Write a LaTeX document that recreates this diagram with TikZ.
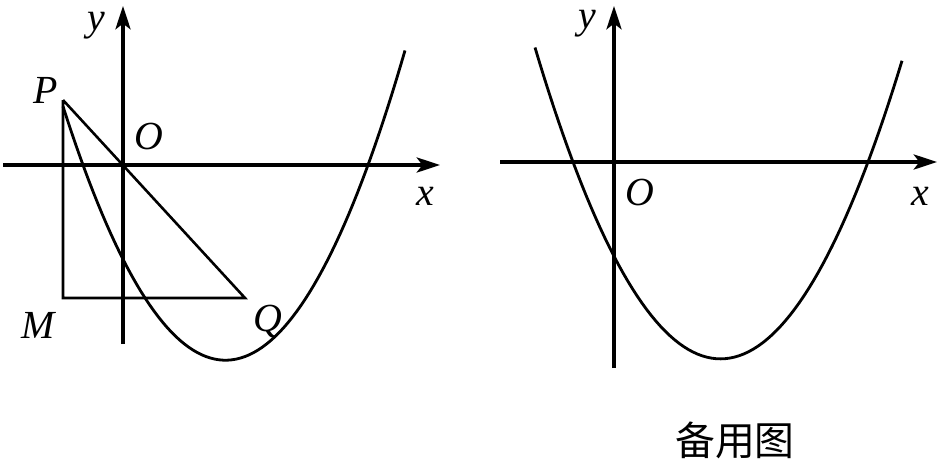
\documentclass[tikz,border=0pt]{standalone}
\usepackage{fontspec}
\setmainfont{Liberation Serif}
\newfontfamily\cjk{Noto Sans CJK SC}
\usetikzlibrary{arrows.meta}

\tikzset{
  axis/.style = { line width = 2.6pt, -{Stealth[length = 20pt, width = 13pt, inset = 5pt]} },
  curve/.style = { line width = 2.4pt },
  seg/.style = { line width = 2.2pt },
  lbl/.style = { font = \fontsize{34}{40}\selectfont\itshape, inner sep = 0pt }
}

\begin{document}
\begin{tikzpicture}[x = 0.03cm, y = -0.03cm]
  \useasboundingbox (0,0) rectangle (939,470);
  % left figure
  \coordinate (xl0) at (3,165);   \coordinate (xl1) at (440,165);
  \coordinate (yl0) at (123,344); \coordinate (yl1) at (123,6);
  \draw [axis] (xl0) -- (xl1);
  \draw [axis] (yl0) -- (yl1);
  \draw [curve, domain = 63:405, samples = 80]
    plot (\x, {165 - 0.00962*(\x-83)*(\x-368)});
  \coordinate (P) at (63,100);
  \coordinate (M) at (63,298);
  \coordinate (Q) at (245,298);
  \draw [seg] (P) -- (Q) -- (M) -- (P);
  \node [lbl] (ly) at (96,26) {y};
  \node [lbl] (lO) at (149,137) {O};
  \node [lbl] (lx) at (425,196) {x};
  \node [lbl] (lP) at (46,90) {P};
  \node [lbl] (lM) at (38,325) {M};
  \node [lbl] (lQ) at (268,322) {Q};
  % right figure
  \coordinate (xr0) at (500,162); \coordinate (xr1) at (937,162);
  \coordinate (yr0) at (614,368); \coordinate (yr1) at (614,6);
  \draw [axis] (xr0) -- (xr1);
  \draw [axis] (yr0) -- (yr1);
  \draw [curve, domain = 535:902, samples = 80]
    plot (\x, {162 - 0.009055*(\x-573)*(\x-868)});
  \node [lbl] (ry) at (587,24) {y};
  \node [lbl] (rO) at (640,193) {O};
  \node [lbl] (rx) at (920,196) {x};
  \node [lbl, font = \cjk\fontsize{34}{40}\selectfont] (cap) at (735,440) {备用图};
\end{tikzpicture}
\end{document}
